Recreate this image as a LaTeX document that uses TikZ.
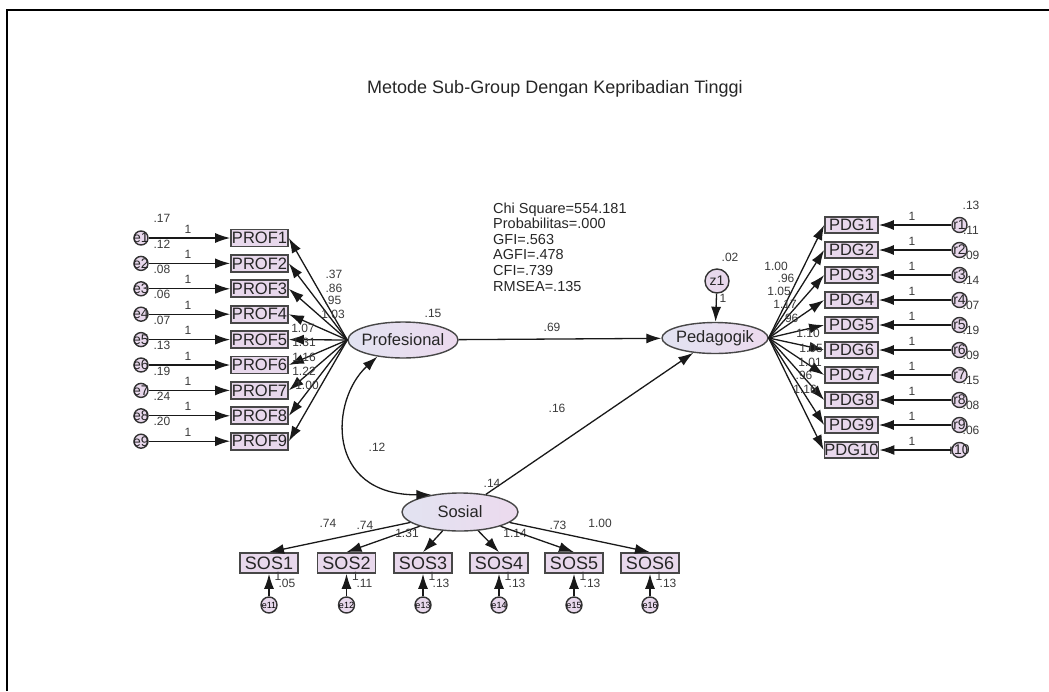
\documentclass[tikz,border=0pt]{standalone}
\usepackage{fontspec}
\setmainfont{Liberation Sans}
\usetikzlibrary{arrows.meta,shapes.geometric}
\definecolor{boxfill}{HTML}{E8D8EC}
\definecolor{latl}{HTML}{E2E3F1}
\definecolor{latr}{HTML}{ECDAEE}
\definecolor{numc}{HTML}{3A3A3A}
\begin{document}
\begin{tikzpicture}[x=1pt,y=-1pt,
  conn/.style={line width=1.3pt, draw=black!90, -{Latex[length=15pt,width=10pt]}},
  cov/.style={line width=1.3pt, draw=black!90, {Latex[length=15pt,width=10pt]}-{Latex[length=15pt,width=10pt]}},
  obs/.style={rectangle, draw=black!72, line width=1.7pt, fill=boxfill, inner sep=0pt, minimum width=57pt, minimum height=17pt, font=\fontsize{16.5}{16.5}\selectfont, text=black!85},
  latent/.style={ellipse, draw=black!72, line width=1.4pt, left color=latl, right color=latr, inner sep=0pt},
  latlab/.style={font=\fontsize{16.5}{16.5}\selectfont, text=black!85},
  err/.style={circle, draw=black!80, line width=1.4pt, fill=boxfill, inner sep=0pt, minimum size=14pt},
  elab/.style={font=\fontsize{14}{14}\selectfont, text=black!85},
  num/.style={font=\fontsize{12}{12}\selectfont, text=numc, inner sep=0pt},
  stat/.style={font=\fontsize{14.5}{14.5}\selectfont, text=black!85, inner sep=0pt, anchor=base west},
]
\useasboundingbox (0,0) rectangle (1049,691);
\draw[line width=2.5pt] (7,691) -- (7,10) -- (1049,10);

\node[font=\fontsize{18}{18}\selectfont, text=black!85, anchor=base, inner sep=0pt] (title) at (555,93) {Metode Sub-Group Dengan Kepribadian Tinggi};

\node[stat] (st1) at (493,213) {Chi Square=554.181};
\node[stat] (st2) at (493,228.6) {Probabilitas=.000};
\node[stat] (st3) at (493,244.2) {GFI=.563};
\node[stat] (st4) at (493,259.8) {AGFI=.478};
\node[stat] (st5) at (493,275.4) {CFI=.739};
\node[stat] (st6) at (493,291) {RMSEA=.135};

% latent variables
\node[latent, minimum width=110pt, minimum height=36pt, label={[latlab]center:Profesional}] (prof) at (403,340) {};
\node[latent, minimum width=106pt, minimum height=31pt, label={[latlab]center:Pedagogik}] (ped) at (715,338) {};
\node[latent, minimum width=116pt, minimum height=38pt, label={[latlab]center:Sosial}] (sos) at (460,512) {};
\node[err, minimum size=24pt, label={[elab]center:z1}] (z1) at (717,281) {};

% Profesional indicators
\foreach \i/\va/\ld/\lx/\ly in {1/.17/.37/334/274, 2/.12/.86/334/288, 3/.08/.95/333/300, 4/.06/1.03/333/314, 5/.07/1.07/303/328, 6/.13/1.31/304/342, 7/.19/1.16/304/357, 8/.24/1.22/304/371, 9/.20/1.00/307/385} {
  \pgfmathsetmacro\yy{238+25.4*(\i-1)}
  \node[obs] (prof\i) at (259.5,\yy) {PROF\i};
  \node[err, label={[elab]center:e\i}] (e\i) at (141,\yy) {};
  \draw[conn] (e\i) -- (prof\i);
  \draw[conn] (prof.west) -- (prof\i.east);
  \node[num] (pw\i) at (188,\yy-9) {1};
  \node[num] (pv\i) at (162,\yy-19.5) {\va};
  \node[num] (pl\i) at (\lx,\ly) {\ld};
}

% Pedagogik indicators
\foreach \i/\va/\ld/\lx/\ly in {1/.13/1.00/776/266, 2/.11/.96/786/278, 3/.09/1.05/779/291, 4/.14/1.17/785/304, 5/.07/.96/790/318, 6/.19/1.10/808/333, 7/.09/1.05/811/348, 8/.15/1.01/810/362, 9/.08/.96/804/375, 10/.06/1.16/805/389} {
  \pgfmathsetmacro\yy{225+25*(\i-1)}
  \node[obs, minimum width=53pt, minimum height=16pt] (pdg\i) at (851.5,\yy) {PDG\i};
  \node[err, minimum size=15pt, label={[elab]center:r\i}] (r\i) at (959.5,\yy) {};
  \draw[conn] (r\i) -- (pdg\i);
  \draw[conn] (ped.east) -- (pdg\i.west);
  \node[num] (dw\i) at (912,\yy-9) {1};
  \node[num] (dv\i) at (971,\yy-19.5) {\va};
  \node[num] (dl\i) at (\lx,\ly) {\ld};
}

% Sosial indicators
\foreach \i/\xx/\va/\ld/\lx/\ly in {1/269/.05/.74/328/523, 2/346.5/.11/.74/365/525, 3/423/.13/1.31/407/533, 4/499/.13/1.14/515/533, 5/574/.13/.73/558/525, 6/650/.13/1.00/600/523} {
  \node[obs, minimum width=58pt, minimum height=20pt, font=\fontsize{18}{18}\selectfont] (sos\i) at (\xx,563) {SOS\i};
  \node[err, minimum size=16pt, label={[font=\fontsize{9}{9}\selectfont]center:e1\i}] (es\i) at (\xx,605) {};
  \draw[conn] (es\i) -- (sos\i);
  \draw[conn] (sos) -- (sos\i.north);
  \node[num] (sw\i) at (\xx+9,576) {1};
  \node[num] (sv\i) at (\xx+18,583) {\va};
  \node[num] (sl\i) at (\lx,\ly) {\ld};
}

% structural paths
\draw[conn] (prof) -- (ped);
\draw[conn] (sos) -- (ped);
\draw[conn] (z1) -- (ped);
\draw[cov] (prof.213) .. controls (330,400) and (325,495) .. (sos.149);

\node[num] (vprof) at (433,313) {.15};
\node[num] (vz) at (730,257) {.02};
\node[num] (wz) at (723,298) {1};
\node[num] (b1) at (552,327) {.69};
\node[num] (b2) at (557,408) {.16};
\node[num] (c1) at (377,447) {.12};
\node[num] (vsos) at (492,483) {.14};
\end{tikzpicture}
\end{document}
